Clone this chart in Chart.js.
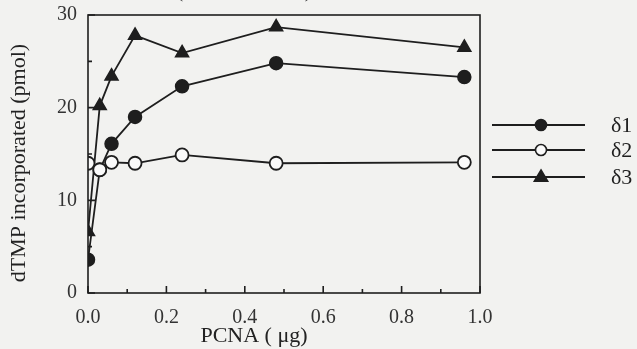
<!DOCTYPE html>
<html><head><meta charset="utf-8">
<script src="https://cdn.jsdelivr.net/npm/chart.js@4.4.1/dist/chart.umd.min.js"></script>
<style>
html,body{margin:0;padding:0;background:#f2f2f0;}
#wrap{width:637px;height:349px;position:relative;}
</style></head><body>
<div id="wrap"><canvas id="c" width="637" height="349"></canvas></div>
<script>
const pcnaUg = [0, 0.03, 0.06, 0.12, 0.24, 0.48, 0.96];
const delta1 = [3.6, 13.3, 16.1, 19.0, 22.3, 24.8, 23.3];
const delta2 = [14.0, 13.3, 14.1, 14.0, 14.9, 14.0, 14.1];
const delta3 = [6.6, 20.2, 23.4, 27.8, 25.9, 28.7, 26.5];
const seriesNames = ['δ1', 'δ2', 'δ3'];
const xTickValues = [0, 0.2, 0.4, 0.6, 0.8, 1.0];
const yTickValues = [0, 10, 20, 30];
const xMinorTicks = [0.1, 0.3, 0.5, 0.7, 0.9];
const yMinorTicks = [5, 15, 25];
const xTitle = 'PCNA ( μg)';
const yTitle = 'dTMP incorporated (pmol)';
const topNote = '(PCNA titration)';

const INK = '#1e1e1e';
const FONT = '"Liberation Serif", "DejaVu Serif", serif';
const toPts = ys => ys.map((y, i) => ({x: pcnaUg[i], y}));

const frame = {
  id: 'frame',
  afterDraw(chart) {
    const {ctx, chartArea: a, scales: {x, y}} = chart;
    ctx.save();
    ctx.strokeStyle = INK;
    ctx.lineWidth = 1.6;
    ctx.strokeRect(a.left, a.top, a.right - a.left, a.bottom - a.top);
    ctx.beginPath();
    xTickValues.forEach(v => { const p = x.getPixelForValue(v); ctx.moveTo(p, a.bottom); ctx.lineTo(p, a.bottom - 7); });
    xMinorTicks.forEach(v => { const p = x.getPixelForValue(v); ctx.moveTo(p, a.bottom); ctx.lineTo(p, a.bottom - 4); });
    yTickValues.forEach(v => { const p = y.getPixelForValue(v); ctx.moveTo(a.left, p); ctx.lineTo(a.left + 7, p); });
    yMinorTicks.forEach(v => { const p = y.getPixelForValue(v); ctx.moveTo(a.left, p); ctx.lineTo(a.left + 4, p); });
    ctx.stroke();
    // clipped header text at the very top
    ctx.fillStyle = '#444';
    ctx.font = '20px ' + FONT;
    ctx.textAlign = 'center';
    ctx.textBaseline = 'alphabetic';
    ctx.fillText(topNote, 244, -3);
    // axis titles
    ctx.fillStyle = '#222';
    ctx.font = '22px ' + FONT;
    ctx.textBaseline = 'middle';
    ctx.fillText(xTitle, 254, 336);
    ctx.save();
    ctx.translate(19, 163);
    ctx.rotate(-Math.PI / 2);
    ctx.fillText(yTitle, 0, 0);
    ctx.restore();
    // legend
    const lx1 = 492, lx2 = 585, mx = 541;
    const ly = [125, 150, 177];
    chart.data.datasets.forEach((ds, i) => {
      const yy = ly[i];
      ctx.strokeStyle = INK; ctx.lineWidth = 1.8;
      ctx.beginPath(); ctx.moveTo(lx1, yy); ctx.lineTo(lx2, yy); ctx.stroke();
      ctx.fillStyle = ds.pointBackgroundColor;
      ctx.lineWidth = 1.6;
      ctx.beginPath();
      if (ds.pointStyle === 'triangle') {
        const r = 7;
        ctx.moveTo(mx, yy - r); ctx.lineTo(mx + r * 0.95, yy + r * 0.6); ctx.lineTo(mx - r * 0.95, yy + r * 0.6); ctx.closePath();
      } else {
        ctx.arc(mx, yy, 5.5, 0, Math.PI * 2);
      }
      ctx.fill(); ctx.stroke();
      ctx.fillStyle = INK;
      ctx.font = '22px ' + FONT;
      ctx.textAlign = 'left'; ctx.textBaseline = 'middle';
      ctx.fillText(ds.label, 611, yy + 1);
    });
    ctx.restore();
  }
};

new Chart(document.getElementById('c'), {
  type: 'line',
  data: {
    datasets: [
      {label: seriesNames[0], data: toPts(delta1), borderColor: INK, borderWidth: 1.8, pointStyle: 'circle', pointRadius: 6.5, pointBackgroundColor: INK, pointBorderColor: INK, pointBorderWidth: 1.5, order: 2},
      {label: seriesNames[1], data: toPts(delta2), borderColor: INK, borderWidth: 1.8, pointStyle: 'circle', pointRadius: 6.5, pointBackgroundColor: '#fafafa', pointBorderColor: INK, pointBorderWidth: 1.8, order: 0},
      {label: seriesNames[2], data: toPts(delta3), borderColor: INK, borderWidth: 1.8, pointStyle: 'triangle', pointRadius: 7.5, pointBackgroundColor: INK, pointBorderColor: INK, pointBorderWidth: 1.5, order: 1}
    ]
  },
  options: {
    responsive: false,
    animation: false,
    layout: {padding: {top: 15, right: 157, left: 0, bottom: 0}},
    plugins: {legend: {display: false}, tooltip: {enabled: false}},
    elements: {line: {tension: 0}},
    scales: {
      x: {
        type: 'linear', min: 0, max: 1.0,
        afterBuildTicks: s => { s.ticks = xTickValues.map(v => ({value: v})); },
        afterFit: s => { s.height = 56; s.paddingLeft = 0; s.paddingRight = 0; },
        grid: {display: false, drawTicks: false},
        border: {display: false},
        ticks: {color: '#333', font: {family: FONT, size: 20}, padding: 13,
          callback: v => (v === 0 ? '0.0' : v.toFixed(1))}
      },
      y: {
        type: 'linear', min: 0, max: 30,
        afterBuildTicks: s => { s.ticks = yTickValues.map(v => ({value: v})); },
        afterFit: s => { s.width = 88; s.paddingTop = 0; s.paddingBottom = 0; },
        grid: {display: false, drawTicks: false},
        border: {display: false},
        ticks: {color: '#333', font: {family: FONT, size: 20}, padding: 11}
      }
    }
  },
  plugins: [frame]
});
</script>
</body></html>
